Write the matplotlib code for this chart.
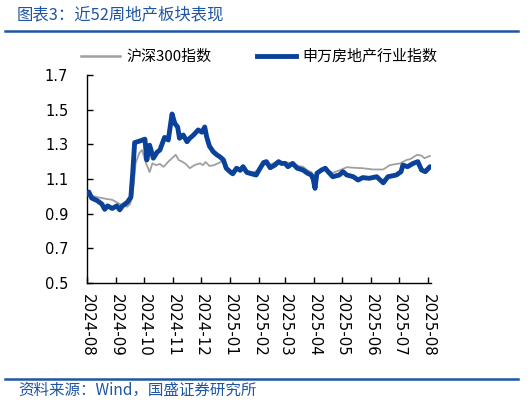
import matplotlib
matplotlib.use("Agg")
import matplotlib.pyplot as plt
import matplotlib.dates as mdates
import pandas as pd
from matplotlib.lines import Line2D

plt.rcParams['font.family'] = ['Noto Sans CJK SC', 'DejaVu Sans']

# ---------------- data ----------------
base_date = "2024-08-01"

# 沪深300指数 (normalised), day offsets from base_date
hs300_days = [0, 5, 11, 16, 21, 27, 32, 37, 43, 46, 48, 50, 52, 56, 59, 62, 64, 67,
              70, 74, 78, 82, 87, 91, 95, 98, 102, 106, 110, 115, 121, 124, 127, 131,
              136, 140, 144, 149, 153, 157, 161, 167, 172, 179, 183, 188, 194, 199,
              204, 210, 215, 220, 226, 231, 236, 240, 244, 247, 252, 258, 263, 271,
              278, 285, 295, 306, 317, 324, 335, 342, 346, 353, 358, 361, 367]
hs300_values = [1.020, 1.005, 0.995, 0.990, 0.985, 0.980, 0.965, 0.950, 0.940, 0.955,
                0.990, 1.070, 1.190, 1.250, 1.267, 1.210, 1.180, 1.140, 1.190, 1.180,
                1.187, 1.170, 1.200, 1.220, 1.240, 1.210, 1.200, 1.185, 1.162, 1.180,
                1.190, 1.180, 1.198, 1.175, 1.180, 1.190, 1.200, 1.175, 1.150, 1.140,
                1.160, 1.170, 1.145, 1.140, 1.150, 1.195, 1.175, 1.190, 1.205, 1.190,
                1.195, 1.190, 1.175, 1.171, 1.150, 1.140, 1.100, 1.135, 1.155, 1.150,
                1.135, 1.152, 1.168, 1.165, 1.162, 1.155, 1.155, 1.180, 1.190, 1.210,
                1.215, 1.239, 1.235, 1.220, 1.233]

# 申万房地产行业指数 (normalised), day offsets from base_date
re_days = [0, 2, 5, 11, 16, 19, 22, 27, 32, 35, 38, 43, 47, 49, 51, 57, 62, 64, 67,
           71, 75, 78, 83, 87, 91, 94, 97, 99, 103, 107, 110, 114, 119, 123, 126, 128,
           131, 135, 139, 142, 146, 149, 153, 156, 160, 164, 167, 171, 176, 181, 185,
           189, 192, 196, 201, 205, 208, 212, 215, 220, 225, 231, 236, 240, 242, 244,
           246, 251, 255, 258, 263, 270, 274, 278, 285, 290, 295, 302, 310, 317, 322,
           331, 336, 338, 343, 349, 354, 358, 362, 367]
re_values = [1.012, 1.025, 0.990, 0.975, 0.955, 0.925, 0.945, 0.930, 0.945, 0.922,
             0.945, 0.965, 0.995, 1.140, 1.310, 1.320, 1.330, 1.210, 1.295, 1.220,
             1.255, 1.267, 1.340, 1.325, 1.475, 1.420, 1.400, 1.335, 1.354, 1.315,
             1.335, 1.354, 1.383, 1.370, 1.400, 1.344, 1.290, 1.258, 1.239, 1.229,
             1.210, 1.162, 1.142, 1.130, 1.162, 1.150, 1.171, 1.138, 1.130, 1.123,
             1.160, 1.195, 1.200, 1.165, 1.180, 1.200, 1.190, 1.190, 1.171, 1.190,
             1.162, 1.152, 1.133, 1.123, 1.100, 1.046, 1.133, 1.152, 1.162, 1.142,
             1.113, 1.123, 1.142, 1.123, 1.113, 1.094, 1.108, 1.104, 1.113, 1.078,
             1.113, 1.123, 1.142, 1.180, 1.171, 1.190, 1.200, 1.152, 1.142, 1.171]

series_names = ["沪深300指数", "申万房地产行业指数"]
y_ticks = [0.5, 0.7, 0.9, 1.1, 1.3, 1.5, 1.7]
x_start, x_end = "2024-08-01", "2025-08-04"

title_text = "图表3：近52周地产板块表现"
source_text = "资料来源：Wind，国盛证券研究所"

# ---------------- styling ----------------
BLUE = "#0A4199"
GRAY = "#A0A0A0"
HEAD = "#1F56A3"

hs_dates = pd.to_datetime(base_date) + pd.to_timedelta(hs300_days, unit="D")
re_dates = pd.to_datetime(base_date) + pd.to_timedelta(re_days, unit="D")

fig = plt.figure(figsize=(5.32, 4.03), dpi=100)
ax = fig.add_axes([0.1635, 0.2978, 0.6465, 0.5161])

ax.plot(hs_dates, hs300_values, color=GRAY, lw=1.3, label=series_names[0], zorder=2)
ax.plot(re_dates, re_values, color=BLUE, lw=3.5, label=series_names[1], zorder=3,
        solid_joinstyle="round", solid_capstyle="round")

ax.set_ylim(0.5, 1.7)
ax.set_yticks(y_ticks)
ax.set_yticklabels([f"{v:.1f}" for v in y_ticks], family="DejaVu Sans")
ax.set_xlim(pd.to_datetime(x_start), pd.to_datetime(x_end))
ax.xaxis.set_major_locator(mdates.MonthLocator())
ax.xaxis.set_major_formatter(mdates.DateFormatter("%Y-%m"))

for s in ["top", "right"]:
    ax.spines[s].set_visible(False)
for s in ["left", "bottom"]:
    ax.spines[s].set_linewidth(1.0)
    ax.spines[s].set_color("black")

ax.tick_params(axis="y", direction="in", length=4, width=1, pad=13.5, labelsize=10.5)
ax.tick_params(axis="x", direction="in", length=4, width=1, pad=8, labelsize=10.8,
               labelrotation=-90)
for lab in ax.get_xticklabels():
    lab.set_family("DejaVu Sans")

handles = [Line2D([], [], color=GRAY, lw=1.8), Line2D([], [], color=BLUE, lw=3.5)]
fig.legend(handles, series_names, loc="center", bbox_to_anchor=(0.487, 0.8586),
           ncol=2, frameon=False, fontsize=10.8, handlelength=2.6,
           handletextpad=0.45, columnspacing=3.0)

# header / footer
fig.text(0.032, 1 - 15 / 403, title_text, color=HEAD, fontsize=11.8, style="italic",
         va="center", ha="left")
fig.add_artist(Line2D([5 / 532, 518 / 532], [1 - 31 / 403, 1 - 31 / 403],
                      color=HEAD, lw=1.8, transform=fig.transFigure))
fig.add_artist(Line2D([5 / 532, 518 / 532], [1 - 378.5 / 403, 1 - 378.5 / 403],
                      color=HEAD, lw=1.8, transform=fig.transFigure))
fig.text(0.034, 1 - 390 / 403, source_text, color=HEAD, fontsize=11.2, style="italic",
         va="center", ha="left")

fig.savefig("out.png", dpi=100)
